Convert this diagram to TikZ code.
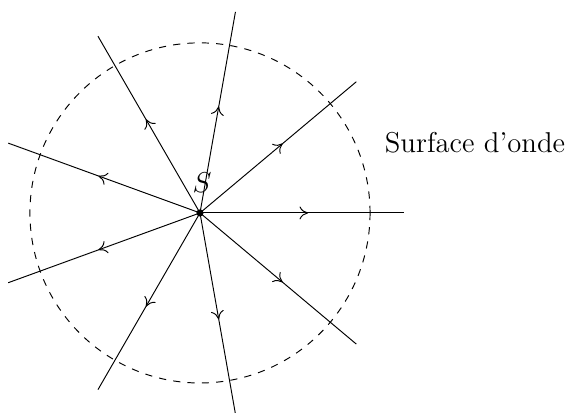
\documentclass[tikz,border=0pt,12pt]{standalone}
\usepackage{amsmath}
\usepackage{tikz}
\usetikzlibrary{decorations.markings, arrows.meta, positioning, calc}

\begin{document}
\begin{tikzpicture}[
    % --- Global Styles ---
    source/.style={circle, fill=black, inner sep=0pt, minimum size=3pt},
    wavefront/.style={dashed},
    ray/.style={postaction={decorate}, decoration={markings, mark=at position 0.53 with {\arrow{To[length=3.6pt, width=5.4pt]}}}},
    caption/.style={font=\normalsize}
]

    % --- Frame ---
    \useasboundingbox (-2.94,-2.93) rectangle (5.41,3.13);

    % --- Source & Wave Surface ---
    \node[source] (S) at (0,0) {};
    \node[above=0.1cm of S, xshift=0.03cm] (Slabel) {$S$};
    \draw[wavefront] (S.center) circle (2.5cm);
    \node[caption, anchor=west] (surface) at (2.57,1.03) {Surface d'onde};

    % --- Rays ---
    \foreach \ang in {0,40,...,320}{
        \coordinate (r\ang) at (\ang:3);
        \draw[ray] (S.center) -- (r\ang);
    }

\end{tikzpicture}
\end{document}
